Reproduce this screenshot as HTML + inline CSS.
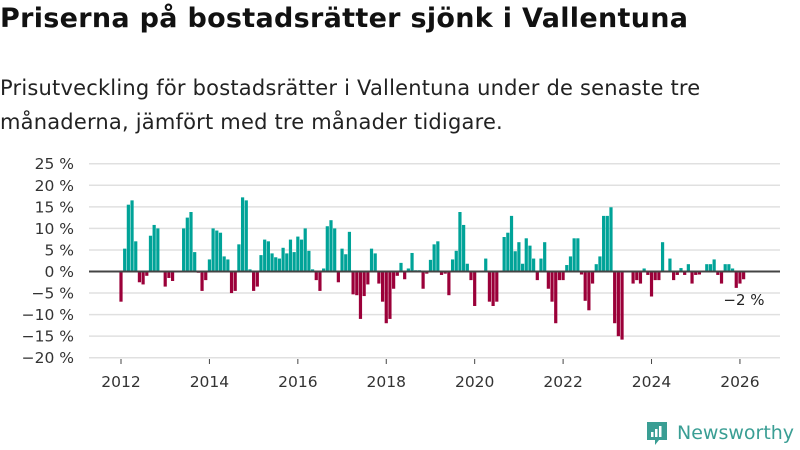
<!DOCTYPE html>
<html><head><meta charset="utf-8"><style>
body{margin:0;width:800px;height:450px;background:#fff;font-family:"DejaVu Sans",sans-serif;overflow:hidden;position:relative}
h1{position:absolute;left:0;top:3px;margin:0;font-size:27px;font-weight:bold;color:#111;letter-spacing:0.3px}
.sub{position:absolute;left:0;top:71px;margin:0;font-size:21px;line-height:34px;color:#222;letter-spacing:0.2px}
svg{position:absolute;left:0;top:0}
</style></head><body>
<h1>Priserna på bostadsrätter sjönk i Vallentuna</h1>
<p class="sub">Prisutveckling för bostadsrätter i Vallentuna under de senaste tre<br>månaderna, jämfört med tre månader tidigare.</p>
<svg id="chart" width="800" height="450"></svg>
<div style="position:absolute;left:645px;top:420px;display:flex;align-items:center">
<svg width="24" height="26" style="position:static"><path d="M2 2h20v18h-8l-4 5v-5H2z" fill="#3a9e94"/><rect x="6" y="12" width="2.5" height="5" fill="#fff"/><rect x="10" y="9" width="2.5" height="8" fill="#fff"/><rect x="14" y="6" width="2.5" height="11" fill="#fff"/></svg>
<span style="font-size:19px;color:#3a9e94;margin-left:8px">Newsworthy</span></div>
<script>
const values=[-7,5.3,15.5,16.5,7,-2.5,-3,-1,8.3,10.8,10,0,-3.5,-1.5,-2.2,0,0,10,12.5,13.8,4.5,-0.3,-4.5,-2,2.8,10,9.5,9,3.5,2.8,-5,-4.5,6.3,17.2,16.5,0.5,-4.5,-3.5,3.8,7.4,7,4.2,3.3,3,5.5,4.2,7.4,4.5,8.1,7.4,10,4.8,0.5,-2,-4.5,0.7,
10.5,11.9,10,-2.5,5.3,4,9.2,-5.3,-5.5,-11,-5.7,-3,5.3,4.2,-2.8,-7,-12,-11,-4,-1,2,-1.8,0.7,4.3,0.3,0.3,-4,-0.5,2.7,6.3,7,-0.8,-0.5,-5.5,2.8,4.8,13.8,10.8,1.8,-2,-8,0,0,3,-7,-8,-7,0,8,9,12.9,4.7,6.8,1.8,7.7,6,3,-2,
3,6.8,-4,-7,-12,-2,-2,1.5,3.5,7.7,7.7,-0.7,-6.8,-9,-2.8,1.7,3.5,12.9,12.9,14.9,-12,-15,-15.8,0,0,-2.8,-2,-2.8,0.7,-0.8,-5.8,-2,-2,6.8,0,3,-2,-0.8,0.8,-0.8,1.7,-2.8,-0.8,-0.7,0,1.7,1.7,2.8,-0.8,-2.8,1.7,1.7,0.7,-3.8,-2.8,-1.8];
const startYear=2012;
const yTicks=[25,20,15,10,5,0,-5,-10,-15,-20];
const xTicks=[2012,2014,2016,2018,2020,2022,2024,2026];
const lastLabel="−2 %";
const svg=document.getElementById('chart');const NS='http://www.w3.org/2000/svg';
const y=v=>271.5-v*4.311;
const x=yr=>121+(yr-2012)*44.21;
function mk(t,a,p){const e=document.createElementNS(NS,t);for(const k in a)e.setAttribute(k,a[k]);(p||svg).appendChild(e);return e;}
yTicks.forEach(v=>{
 const l=mk('line',{x1:89,x2:780,y1:y(v),y2:y(v),stroke:'#e0e0e0','stroke-width':1.5});
 
 
 const t=mk('text',{x:74,y:y(v)+5.5,'text-anchor':'end','font-size':15.5,fill:'#333','font-family':'DejaVu Sans, sans-serif'});
 t.textContent=(v<0?'−'+(-v):v)+' %';
 
 
});
xTicks.forEach(yr=>{
 const l=mk('line',{x1:x(yr),x2:x(yr),y1:359,y2:364,stroke:'#444','stroke-width':1});
 
 
 const t=mk('text',{x:x(yr),y:387,'text-anchor':'middle','font-size':15.5,fill:'#333','font-family':'DejaVu Sans, sans-serif'});
 t.textContent=yr;
 
 
});
values.forEach((v,i)=>{
 const cx=x(startYear+i/12);
 const r=mk('rect',{x:cx-1.6,width:3.2,y:Math.min(y(v),y(0)),height:Math.abs(y(v)-y(0)),fill:v>=0?'#00a398':'#9b0039'});
 
 
});
const z=mk('line',{x1:89,x2:780,y1:y(0),y2:y(0),stroke:'#444','stroke-width':2});


const lt=mk('text',{x:744,y:305,'text-anchor':'middle','font-size':15,fill:'#222','font-family':'DejaVu Sans, sans-serif'});
lt.textContent=lastLabel;


</script>
</body></html>
